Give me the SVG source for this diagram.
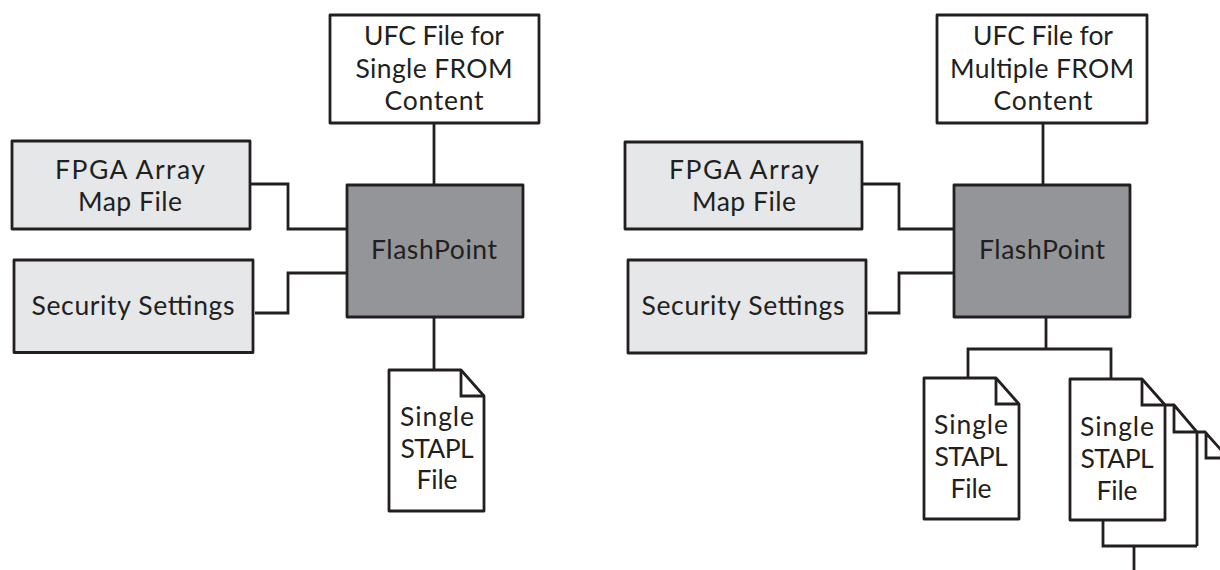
<svg xmlns="http://www.w3.org/2000/svg" width="1220" height="570" viewBox="0 0 1220 570">
<style>
text{font-family:"Lato","Noto Sans","Liberation Sans",sans-serif;font-size:26.5px;fill:#231f20;text-anchor:middle}
.s{stroke:#231f20;stroke-width:2.8;fill:none}
.w{fill:#fff;stroke:#231f20;stroke-width:2.8;stroke-linejoin:round}
.g{fill:#e6e7e8;stroke:#231f20;stroke-width:2.8;stroke-linejoin:round}
.d{fill:#939598;stroke:#231f20;stroke-width:2.8;stroke-linejoin:round}
</style>
<rect width="1220" height="570" fill="#fff"/>
<g id="ufc-left"><rect class="w" x="330" y="15" width="209" height="108"/><text x="434" y="45" textLength="140">UFC File for</text><text x="434" y="78" textLength="157">Single FROM</text><text x="434" y="110" textLength="99">Content</text></g>
<g id="fpga-left"><rect class="g" x="12" y="141" width="238" height="88"/><text x="130" y="179" textLength="150">FPGA Array</text><text x="130" y="211" textLength="104">Map File</text></g>
<g id="security-left"><rect class="g" x="14" y="260" width="239" height="92.500"/><text x="133" y="315" textLength="203">Security Settings</text></g>
<g id="flashpoint-left"><rect class="d" x="347" y="185" width="176" height="132"/><text x="434" y="259" textLength="126">FlashPoint</text></g>
<g id="stapl-left"><path class="w" d="M389 370H461L484 396V511H389Z"/><path class="s" d="M461 370V396H484"/><text x="437" y="426" textLength="74">Single</text><text x="437" y="457.500" textLength="73">STAPL</text><text x="437" y="489" textLength="41">File</text></g>
<g id="ufc-right"><rect class="w" x="937" y="15" width="210" height="108"/><text x="1043" y="45" textLength="140">UFC File for</text><text x="1042" y="78" textLength="184">Multiple FROM</text><text x="1043" y="110" textLength="99">Content</text></g>
<g id="fpga-right"><rect class="g" x="625" y="142" width="237" height="87"/><text x="744" y="179" textLength="150">FPGA Array</text><text x="744" y="211" textLength="104">Map File</text></g>
<g id="security-right"><rect class="g" x="628" y="260" width="238" height="93"/><text x="743" y="315" textLength="203">Security Settings</text></g>
<g id="flashpoint-right"><rect class="d" x="954" y="185" width="176" height="132"/><text x="1042" y="259" textLength="126">FlashPoint</text></g>
<g id="stapl-right-1"><path class="w" d="M924 378H996L1019 404V519H924Z"/><path class="s" d="M996 378V404H1019"/><text x="971" y="434" textLength="74">Single</text><text x="971" y="466" textLength="73">STAPL</text><text x="971" y="497.500" textLength="41">File</text></g>
<g id="stapl-stack">
<path class="s" d="M1197 432H1205L1222 451M1206 432V458H1222"/>
<path class="s" d="M1165 405H1174L1197 432V546M1174 405V432H1197"/>
<path class="w" d="M1070 379H1142L1165 405V520H1070Z"/><path class="s" d="M1142 379V405H1165"/><text x="1117" y="436" textLength="74">Single</text><text x="1117" y="468" textLength="73">STAPL</text><text x="1117" y="499.500" textLength="41">File</text></g>
<g id="connectors" class="s">
<path d="M434 123V185M250 184H288V229H347M255 313H288V273H347M434 317V370"/>
<path d="M1043 123V185M862 184H899V229H954M868 313H899V273H954M1046 317V349M968 378V349H1111V379M1103 520V546H1197M1134 546V570"/>
</g>
</svg>
